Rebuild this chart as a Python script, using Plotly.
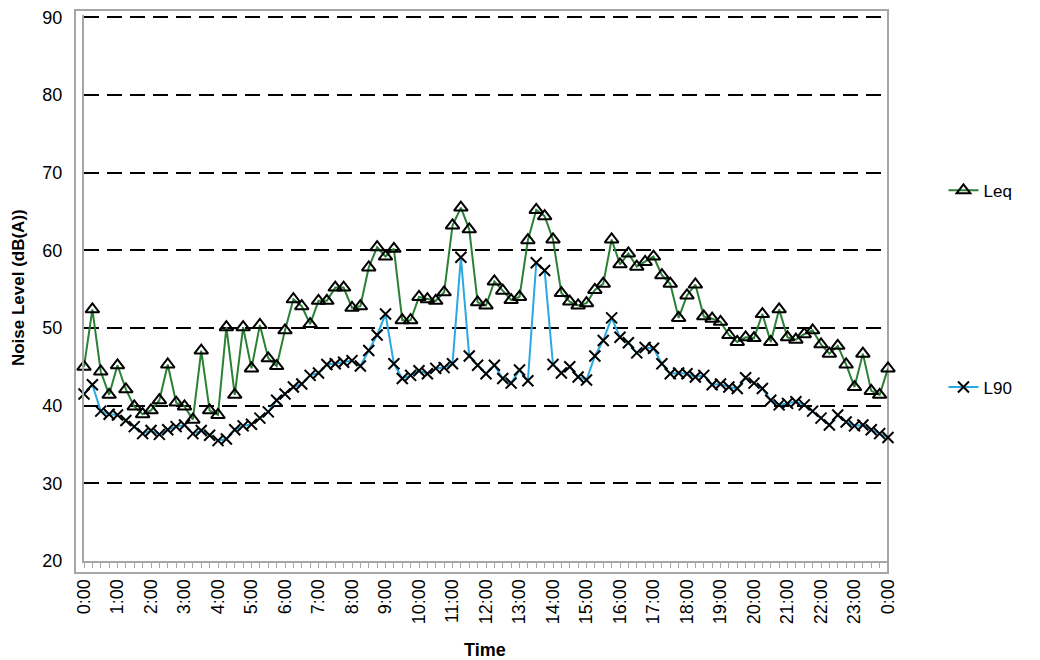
import plotly.graph_objects as go

# ---- data (15-minute intervals, 0:00 to 24:00) ----
LEQ = [45.0, 52.4, 44.4, 41.4, 45.2, 42.1, 39.9, 38.9, 39.4, 40.7,
       45.3, 40.4, 39.9, 38.2, 47.1, 39.4, 38.8, 50.1, 41.4, 50.1,
       44.8, 50.4, 46.1, 45.1, 49.7, 53.7, 52.8, 50.5, 53.5, 53.5,
       55.2, 55.2, 52.6, 52.8, 57.8, 60.4, 59.2, 60.2, 51.0, 51.0,
       54.0, 53.7, 53.5, 54.6, 63.2, 65.5, 62.7, 53.3, 52.9, 56.0,
       54.8, 53.6, 54.0, 61.3, 65.2, 64.4, 61.4, 54.5, 53.4, 52.9,
       53.2, 54.9, 55.7, 61.4, 58.2, 59.6, 57.9, 58.5, 59.2, 56.8,
       55.7, 51.3, 54.2, 55.6, 51.5, 51.2, 50.8, 49.1, 48.2, 48.8,
       48.7, 51.8, 48.2, 52.4, 48.8, 48.5, 49.2, 49.7, 47.9, 46.7,
       47.7, 45.3, 42.4, 46.7, 41.9, 41.4, 44.8]

L90 = [41.5, 42.7, 39.3, 38.9, 38.8, 38.1, 37.3, 36.4, 36.8, 36.3,
       36.9, 37.3, 37.5, 36.4, 36.8, 36.2, 35.5, 35.7, 36.9, 37.4,
       37.6, 38.4, 39.2, 40.7, 41.5, 42.4, 42.8, 43.9, 44.2, 45.3,
       45.4, 45.6, 45.8, 45.1, 47.1, 49.1, 51.8, 45.4, 43.5, 43.9,
       44.5, 44.1, 44.8, 44.9, 45.4, 59.1, 46.4, 45.2, 44.1, 45.2,
       43.5, 42.9, 44.6, 43.2, 58.4, 57.4, 45.3, 44.2, 45.0, 43.7,
       43.3, 46.4, 48.4, 51.3, 48.8, 48.1, 46.8, 47.5, 47.4, 45.4,
       44.1, 44.2, 44.1, 43.7, 43.9, 42.7, 42.8, 42.4, 42.2, 43.6,
       42.9, 42.2, 40.7, 40.1, 40.3, 40.5, 40.1, 39.3, 38.4, 37.5,
       38.8, 37.9, 37.4, 37.5, 36.9, 36.4, 35.9]

TIME_H = [i / 4 for i in range(len(LEQ))]  # hours since midnight

HOUR_VALS = list(range(25))
HOUR_LABELS = ["0:00", "1:00", "2:00", "3:00", "4:00", "5:00", "6:00", "7:00",
               "8:00", "9:00", "10:00", "11:00", "12:00", "13:00", "14:00",
               "15:00", "16:00", "17:00", "18:00", "19:00", "20:00", "21:00",
               "22:00", "23:00", "0:00"]
Y_TICKS = [20, 30, 40, 50, 60, 70, 80, 90]

FONT = "Liberation Sans, Arial, sans-serif"
AXIS_GRAY = "#a6a6a6"

fig = go.Figure()
fig.add_trace(go.Scatter(
    x=TIME_H, y=LEQ, name="Leq", mode="lines+markers",
    line=dict(color="#2b8036", width=2),
    marker=dict(symbol="triangle-up-open", size=12, color="black",
                line=dict(color="black", width=2)),
    cliponaxis=False, legend="legend"))
fig.add_trace(go.Scatter(
    x=TIME_H, y=L90, name="L90", mode="lines+markers",
    line=dict(color="#29a9e1", width=2),
    marker=dict(symbol="x-thin", size=11, color="black",
                line=dict(color="black", width=2)),
    cliponaxis=False, legend="legend2"))

fig.update_layout(
    width=1032, height=652,
    margin=dict(l=76, r=152, t=7, b=99, autoexpand=False),
    paper_bgcolor="white", plot_bgcolor="white",
    font=dict(family=FONT, size=18, color="black"),
    xaxis=dict(
        range=[0, 24], tickmode="array", tickvals=HOUR_VALS, ticktext=HOUR_LABELS,
        tickangle=-90, ticks="outside", ticklen=5, tickwidth=1, tickcolor=AXIS_GRAY,
        minor=dict(dtick=0.25, tick0=0, ticks="outside", ticklen=5, tickwidth=1,
                   tickcolor=AXIS_GRAY, showgrid=False),
        showline=True, linecolor=AXIS_GRAY, linewidth=2, automargin=False,
        showgrid=False, zeroline=False, ticklabelstandoff=4,
        ticklabeloverflow="allow",
        tickfont=dict(family=FONT, size=18, color="black")),
    yaxis=dict(
        range=[20, 90.3], tickmode="array", tickvals=Y_TICKS, automargin=False,
        showgrid=True, gridcolor="black", gridwidth=2, griddash="15px,8px",
        showline=True, linecolor=AXIS_GRAY, linewidth=2,
        ticks="", zeroline=False, ticklabelstandoff=16,
        ticklabeloverflow="allow",
        tickfont=dict(family=FONT, size=18, color="black")),
    legend=dict(x=1.069, y=0.678, xanchor="left", yanchor="middle",
                font=dict(family=FONT, size=17, color="black"),
                bgcolor="rgba(0,0,0,0)"),
    legend2=dict(x=1.069, y=0.318, xanchor="left", yanchor="middle",
                 font=dict(family=FONT, size=17, color="black"),
                 bgcolor="rgba(0,0,0,0)"),
    showlegend=True,
    annotations=[
        dict(text="<b>Time</b>", xref="paper", yref="paper", x=0.4988, y=-0.1633,
             xanchor="center", yanchor="middle", showarrow=False,
             font=dict(family=FONT, size=18, color="black")),
        dict(text="<b>Noise Level (dB(A))</b>", xref="paper", yref="paper",
             x=-0.082, y=0.5, xanchor="center", yanchor="middle", textangle=-90,
             showarrow=False, font=dict(family=FONT, size=17, color="black")),
    ],
    shapes=[dict(type="rect", xref="paper", yref="paper",
                 x0=-0.0112, x1=1.0, y0=-0.022, y1=1.009,
                 line=dict(color=AXIS_GRAY, width=2), layer="below")],
)

fig.write_html("out.html")
